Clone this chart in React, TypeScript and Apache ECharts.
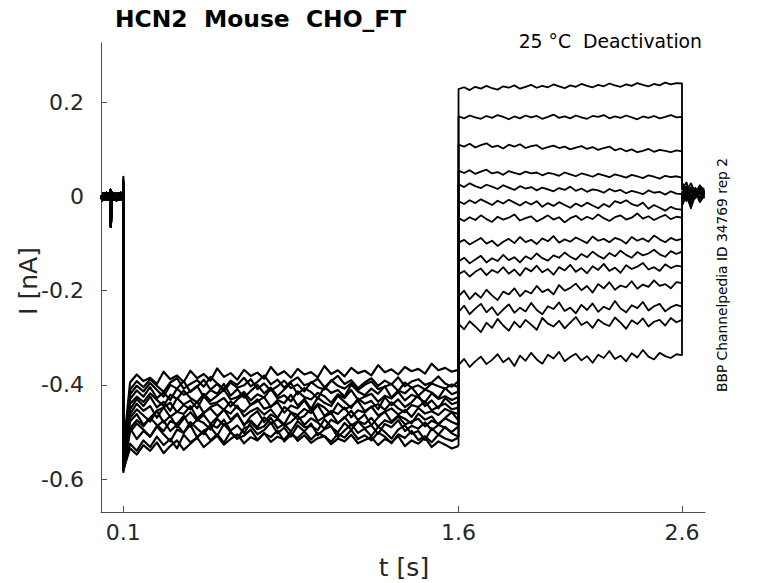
import React, { useEffect, useRef } from 'react';
import * as echarts from 'echarts';

const TITLE = 'HCN2  Mouse  CHO_FT';
const SUBTITLE = '25 °C  Deactivation';
const SIDE_NOTE = 'BBP Channelpedia ID 34769 rep 2';
const X_LABEL = 't [s]';
const Y_LABEL = 'I [nA]';
const X_TICKS = [0.1, 1.6, 2.6];
const Y_TICKS = [-0.6, -0.4, -0.2, 0, 0.2];
const X_MIN = 0;
const X_MAX = 2.703;
const Y_MIN = -0.67;
const Y_MAX = 0.326;

// all current values in pA (thousandths of nA)
const PRE_T = [0, 0.006, 0.012, 0.018, 0.024, 0.03, 0.036, 0.04, 0.042, 0.044, 0.046, 0.048, 0.052, 0.058, 0.064, 0.07, 0.076, 0.082, 0.088, 0.094, 0.1];
const PRE_PA = [2, -8, 7, -6, 8, -7, 6, -5, 14, -64, -28, -4, 8, -7, 7, -8, 6, -7, 8, -6, 2];

const ONSET_T = 0.1;
const ONSET_UP = [42, 20, 30, 15, 35, 25, 18, 28, 22, 32, 16, 26, 24, 12];
const ONSET_MIN = [-585, -560, -570, -550, -580, -545, -565, -575, -555, -582, -548, -568, -572, -540];

// activation step 0.1 s .. 1.6 s, sampled every 0.03 s (first sample at 0.13 s)
const A_T0 = 0.1;
const A_DT = 0.03;
const A_PA = [
  [-492,-515,-498,-510,-488,-505,-520,-495,-502,-485,-512,-497,-490,-508,-483,-500,-515,-492,-487,-505,-496,-480,-503,-491,-510,-486,-499,-482,-507,-494,-488,-511,-497,-484,-502,-493,-509,-489,-500,-514,-495,-486,-504,-498,-517,-492,-506,-489,-503,-510],
  [-452,-430,-445,-425,-448,-436,-455,-428,-442,-433,-450,-424,-441,-437,-428,-446,-431,-420,-443,-435,-426,-447,-432,-439,-421,-444,-430,-451,-427,-438,-445,-423,-436,-449,-429,-440,-434,-452,-426,-443,-431,-447,-437,-422,-445,-433,-450,-428,-441,-436],
  [-478,-462,-485,-470,-455,-480,-466,-490,-472,-458,-476,-464,-483,-469,-452,-474,-461,-487,-467,-456,-479,-463,-471,-484,-459,-473,-466,-450,-477,-468,-460,-481,-470,-455,-475,-463,-486,-469,-457,-478,-465,-472,-482,-461,-474,-467,-485,-470,-458,-476],
  [-430,-412,-425,-405,-428,-416,-432,-408,-421,-414,-402,-426,-411,-419,-398,-423,-409,-427,-413,-400,-418,-406,-424,-410,-396,-420,-407,-415,-429,-404,-417,-411,-425,-399,-414,-422,-408,-419,-403,-427,-412,-418,-405,-423,-410,-416,-428,-407,-420,-414],
  [-535,-548,-528,-540,-522,-545,-530,-518,-538,-525,-512,-532,-520,-508,-527,-515,-505,-524,-511,-518,-502,-521,-510,-516,-500,-519,-507,-523,-513,-509,-526,-514,-520,-506,-524,-517,-511,-528,-515,-522,-509,-530,-518,-525,-512,-532,-520,-527,-535,-530],
  [-410,-392,-405,-388,-402,-415,-395,-386,-408,-398,-390,-404,-383,-397,-409,-391,-400,-385,-403,-394,-380,-399,-389,-406,-393,-384,-401,-396,-387,-405,-392,-381,-398,-390,-407,-395,-386,-402,-391,-399,-384,-403,-393,-388,-400,-395,-382,-397,-404,-392],
  [-462,-440,-455,-445,-470,-448,-438,-458,-443,-452,-436,-460,-447,-441,-453,-435,-449,-457,-442,-431,-451,-446,-437,-459,-444,-450,-433,-455,-440,-448,-462,-439,-452,-445,-434,-456,-447,-441,-453,-437,-450,-458,-443,-447,-435,-454,-446,-440,-452,-448],
  [-500,-482,-495,-510,-488,-476,-498,-485,-502,-479,-493,-505,-484,-491,-474,-497,-486,-503,-480,-494,-488,-470,-492,-483,-499,-477,-490,-487,-496,-473,-489,-501,-481,-495,-478,-492,-486,-504,-483,-490,-475,-498,-487,-493,-480,-496,-485,-491,-500,-488],
  [-440,-425,-436,-418,-432,-445,-421,-430,-412,-428,-437,-419,-434,-423,-410,-431,-426,-415,-433,-420,-427,-408,-429,-422,-435,-414,-426,-431,-417,-424,-438,-420,-428,-411,-432,-425,-419,-436,-423,-429,-415,-433,-421,-427,-437,-418,-430,-424,-432,-426],
  [-525,-540,-518,-532,-510,-528,-515,-535,-506,-522,-512,-498,-518,-505,-523,-500,-514,-508,-495,-517,-503,-511,-497,-520,-506,-513,-499,-516,-502,-509,-521,-504,-512,-496,-515,-507,-518,-501,-510,-524,-505,-513,-498,-517,-509,-522,-506,-514,-519,-512],
  [-420,-402,-414,-396,-411,-425,-400,-408,-392,-415,-404,-389,-410,-398,-413,-395,-406,-401,-388,-409,-397,-412,-403,-391,-407,-399,-414,-394,-405,-410,-390,-402,-408,-396,-411,-400,-393,-409,-404,-398,-413,-395,-406,-401,-410,-397,-403,-408,-399,-405],
  [-470,-452,-465,-478,-455,-448,-468,-457,-462,-445,-471,-459,-450,-466,-453,-461,-444,-467,-456,-449,-463,-452,-470,-447,-458,-464,-451,-460,-443,-466,-455,-462,-448,-469,-454,-459,-446,-465,-457,-450,-463,-453,-468,-449,-461,-456,-464,-451,-458,-462],
  [-492,-475,-488,-470,-485,-498,-477,-483,-466,-489,-474,-481,-495,-472,-486,-478,-463,-484,-476,-490,-469,-482,-473,-487,-479,-465,-485,-471,-480,-493,-474,-482,-468,-486,-477,-483,-470,-489,-475,-481,-467,-484,-478,-472,-488,-476,-483,-471,-479,-485],
  [-395,-378,-392,-385,-398,-372,-388,-380,-394,-370,-386,-377,-391,-365,-383,-375,-389,-368,-381,-374,-387,-362,-379,-371,-385,-366,-378,-373,-384,-360,-377,-369,-382,-364,-375,-370,-380,-358,-373,-367,-378,-362,-371,-366,-376,-355,-369,-364,-372,-368],
];

// deactivation step 1.6 s .. 2.6 s, sampled every 0.025 s
const B_T0 = 1.6;
const B_DT = 0.025;
const B_PA = [
  [228,232,226,233,229,235,230,227,234,231,236,229,233,237,231,235,232,238,234,230,236,233,239,235,232,237,234,240,236,233,238,235,241,237,234,239,236,242,238,241,240],
  [170,166,172,168,165,171,167,173,169,164,170,166,172,168,171,165,169,174,167,170,166,172,168,165,171,169,173,166,170,167,172,168,164,170,167,171,166,169,173,168,169],
  [110,106,112,104,109,113,105,108,102,110,106,111,103,107,109,101,105,108,103,106,100,104,107,101,105,99,103,106,98,102,96,100,94,97,101,95,99,97,94,98,96],
  [55,50,56,48,53,57,49,52,46,54,50,47,53,49,51,45,50,48,44,51,47,43,49,46,42,48,45,41,47,44,40,46,43,39,45,42,38,44,41,43,40],
  [26,20,28,22,18,25,21,16,24,19,14,22,17,20,13,19,15,11,18,14,21,12,17,10,15,13,8,16,11,14,7,12,9,5,13,8,10,4,11,6,5],
  [-10,-16,-8,-14,-6,-12,-18,-9,-15,-7,-13,-19,-11,-17,-10,-22,-14,-20,-12,-18,-24,-15,-21,-13,-19,-25,-16,-22,-10,-14,-8,-16,-20,-13,-26,-18,-24,-30,-22,-27,-28],
  [-46,-52,-44,-50,-40,-48,-54,-43,-49,-45,-38,-51,-46,-42,-53,-47,-40,-49,-44,-55,-46,-41,-50,-43,-48,-38,-46,-52,-44,-40,-49,-45,-36,-47,-42,-50,-44,-39,-48,-43,-45],
  [-98,-92,-102,-95,-88,-100,-94,-105,-96,-90,-99,-86,-97,-92,-101,-89,-95,-84,-98,-91,-96,-87,-93,-99,-85,-94,-90,-97,-88,-92,-100,-86,-94,-89,-96,-83,-91,-97,-88,-93,-90],
  [-138,-130,-142,-134,-126,-140,-131,-137,-124,-135,-129,-140,-127,-133,-121,-131,-136,-125,-130,-119,-128,-134,-122,-129,-117,-126,-132,-120,-127,-115,-124,-130,-118,-125,-121,-113,-123,-128,-116,-122,-117],
  [-165,-158,-170,-160,-153,-167,-156,-162,-150,-164,-155,-168,-152,-159,-147,-161,-154,-166,-150,-157,-145,-160,-152,-163,-148,-156,-143,-158,-151,-162,-146,-154,-149,-141,-155,-150,-158,-144,-152,-147,-149],
  [-212,-200,-218,-205,-215,-198,-210,-220,-202,-208,-195,-212,-200,-206,-190,-203,-197,-208,-188,-200,-194,-185,-199,-190,-204,-186,-195,-182,-198,-189,-193,-180,-196,-187,-192,-178,-190,-186,-195,-182,-184],
  [-245,-232,-250,-238,-228,-246,-235,-252,-240,-229,-247,-236,-244,-226,-241,-250,-233,-239,-225,-243,-236,-248,-230,-241,-227,-245,-234,-240,-222,-238,-246,-231,-237,-224,-242,-233,-228,-244,-235,-230,-234],
  [-270,-282,-265,-276,-288,-268,-279,-260,-274,-285,-266,-278,-262,-272,-283,-258,-270,-276,-264,-280,-268,-256,-273,-266,-279,-261,-270,-275,-257,-268,-281,-263,-271,-259,-276,-266,-262,-274,-258,-267,-262],
  [-358,-345,-362,-350,-340,-356,-347,-335,-352,-343,-360,-338,-349,-332,-346,-355,-336,-344,-330,-350,-341,-334,-348,-339,-353,-336,-343,-328,-345,-338,-350,-333,-342,-326,-340,-346,-332,-339,-343,-335,-337],
];

// return to holding after 2.6 s
const POST_T = [2.6, 2.62, 2.64, 2.66, 2.68, 2.7];
const POST_PA = [
  [30, 12, 28, 8, 22, 15],
  [25, 5, 20, -2, 18, 10],
  [20, -5, 15, 2, 24, 8],
  [15, 30, 0, 18, 5, 12],
  [10, -10, 12, -4, 16, 2],
  [5, 22, -8, 14, -2, 10],
  [0, 18, -12, 8, 20, 4],
  [-5, 12, -15, 6, -6, 14],
  [-8, 15, -18, 4, 10, -2],
  [-10, 8, -20, 12, -5, 6],
  [-12, 20, -6, 16, -10, 8],
  [-15, 6, -22, 2, 14, -4],
  [-18, 10, -14, 18, -8, 6],
  [-20, 4, -25, 10, -12, 2],
];

const FONT = 'DejaVu Sans';
const TEXT_COLOR = '#262626';
const AXIS_COLOR = '#4d4d4d';

function buildSeries() {
  const series: any[] = [];
  for (let i = 0; i < A_PA.length; i++) {
    const first: number[][] = PRE_T.map((t, k) => [t, PRE_PA[k] / 1000]);
    first.push([ONSET_T, ONSET_UP[i] / 1000]);
    first.push([ONSET_T, ONSET_MIN[i] / 1000]);
    A_PA[i].forEach((v, k) => first.push([A_T0 + A_DT * (k + 1), v / 1000]));
    const lastA = A_PA[i][A_PA[i].length - 1];
    const second: number[][] = [[B_T0, lastA / 1000]];
    B_PA[i].forEach((v, k) => second.push([B_T0 + B_DT * k, v / 1000]));
    POST_PA[i].forEach((v, k) => second.push([POST_T[k], v / 1000]));
    const common = {
      type: 'line',
      showSymbol: false,
      symbol: 'none',
      silent: true,
      animation: false,
      z: 2,
    };
    series.push({ ...common, data: first, lineStyle: { color: '#000', width: 2.2, join: 'round' } });
    series.push({ ...common, data: second, lineStyle: { color: '#000', width: 1.8, join: 'round' } });
  }
  return series;
}

export default function App() {
  const ref = useRef<HTMLDivElement>(null);
  useEffect(() => {
    if (!ref.current) return;
    const chart = echarts.init(ref.current, undefined, { renderer: 'svg' });
    const fmt = (v: number) => (Math.abs(v) < 1e-9 ? '0' : v.toFixed(1));
    chart.setOption({
      animation: false,
      backgroundColor: '#ffffff',
      grid: { left: 101, right: 73, top: 43, bottom: 71, containLabel: false },
      xAxis: {
        type: 'value',
        min: X_MIN,
        max: X_MAX,
        axisLine: { show: true, onZero: false, lineStyle: { color: AXIS_COLOR, width: 1 } },
        axisTick: { show: true, inside: true, length: 6, customValues: X_TICKS, lineStyle: { color: AXIS_COLOR } },
        axisLabel: {
          show: true,
          customValues: X_TICKS,
          formatter: fmt,
          color: TEXT_COLOR,
          fontFamily: FONT,
          fontSize: 22,
          margin: 9,
        },
        splitLine: { show: false },
      },
      yAxis: {
        type: 'value',
        min: Y_MIN,
        max: Y_MAX,
        axisLine: { show: true, onZero: false, lineStyle: { color: AXIS_COLOR, width: 1 } },
        axisTick: { show: true, inside: true, length: 6, customValues: Y_TICKS, lineStyle: { color: AXIS_COLOR } },
        axisLabel: {
          show: true,
          customValues: Y_TICKS,
          formatter: fmt,
          color: TEXT_COLOR,
          fontFamily: FONT,
          fontSize: 22,
          margin: 17,
        },
        splitLine: { show: false },
      },
      graphic: [
        {
          type: 'text',
          x: 115,
          y: 18.5,
          style: {
            text: TITLE,
            fill: '#000',
            fontFamily: FONT,
            fontWeight: 'bold',
            fontSize: 23.4,
            align: 'left',
            verticalAlign: 'middle',
            textAlign: 'left',
            textVerticalAlign: 'middle',
          },
        },
        {
          type: 'text',
          x: 702,
          y: 41,
          style: {
            text: SUBTITLE,
            fill: '#000',
            fontFamily: FONT,
            fontSize: 18.8,
            align: 'right',
            verticalAlign: 'middle',
            textAlign: 'right',
            textVerticalAlign: 'middle',
          },
        },
        {
          type: 'text',
          x: 722,
          y: 275,
          rotation: Math.PI / 2,
          style: {
            text: SIDE_NOTE,
            fill: '#000',
            fontFamily: FONT,
            fontSize: 13.8,
            align: 'center',
            verticalAlign: 'middle',
            textAlign: 'center',
            textVerticalAlign: 'middle',
          },
        },
        {
          type: 'text',
          x: 28,
          y: 281,
          rotation: Math.PI / 2,
          style: {
            text: Y_LABEL,
            fill: TEXT_COLOR,
            fontFamily: FONT,
            fontSize: 25,
            align: 'center',
            verticalAlign: 'middle',
            textAlign: 'center',
            textVerticalAlign: 'middle',
          },
        },
        {
          type: 'text',
          x: 404,
          y: 567,
          style: {
            text: X_LABEL,
            fill: TEXT_COLOR,
            fontFamily: FONT,
            fontSize: 25,
            align: 'center',
            verticalAlign: 'middle',
            textAlign: 'center',
            textVerticalAlign: 'middle',
          },
        },
      ],
      series: buildSeries(),
    });
    return () => chart.dispose();
  }, []);
  return (
    <div
      ref={ref}
      style={{ position: 'fixed', left: 0, top: 0, width: 778, height: 583, background: '#fff' }}
    />
  );
}
